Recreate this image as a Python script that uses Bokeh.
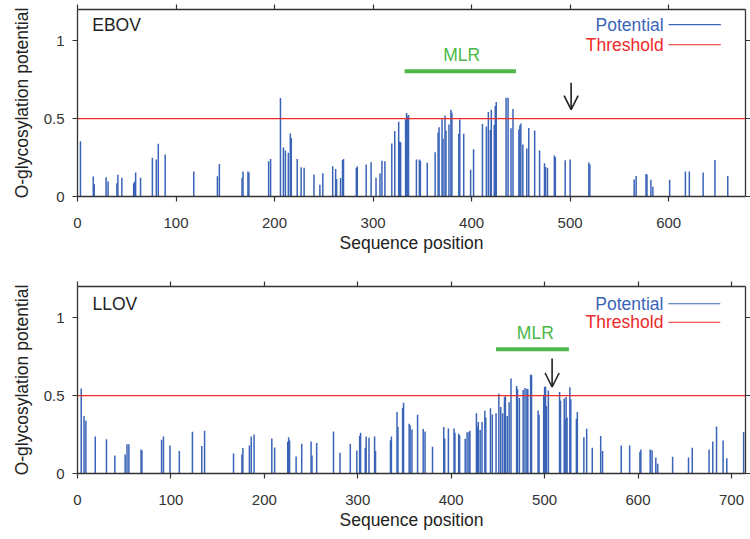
from bokeh.plotting import figure
from bokeh.models import Range1d, LinearAxis, FixedTicker, Span, Arrow, OpenHead, Label
from bokeh.layouts import column
from bokeh.embed import file_html
from bokeh.resources import INLINE

# ---------------- data ----------------
ebov_pos = [3, 16, 17, 29, 31, 40, 41, 45, 57, 58, 59, 64, 76, 80, 82, 89, 118, 142, 144,
            167, 168, 173, 174, 194, 196, 206, 209, 211, 214, 216, 217, 223,
            227, 230, 240, 246, 249, 259, 262, 263, 267, 269, 270, 283, 284, 293, 298,
            303, 307, 309, 312, 319, 322, 326, 327, 328, 333, 334, 335, 336, 344, 347,
            348, 355, 363, 366, 367, 370, 371, 373, 374, 377, 379, 380, 387, 388, 392,
            399, 402, 411, 415, 417, 419, 420, 423, 424, 425, 435, 437, 440, 442, 448,
            449, 450, 452, 456, 458, 464, 469, 474, 475, 477, 484, 485, 495, 500, 519,
            520, 565, 567, 577, 578, 582, 584, 601, 617, 621, 635, 647, 660]
ebov_pot = [0.355, 0.128, 0.079, 0.124, 0.096, 0.085, 0.139, 0.120, 0.085, 0.096, 0.154, 0.12,
            0.248, 0.237, 0.338, 0.269, 0.160, 0.130, 0.209,
            0.12, 0.16, 0.16, 0.154, 0.226, 0.241, 0.632, 0.314, 0.295, 0.280, 0.404, 0.376, 0.241,
            0.188, 0.184, 0.141, 0.075, 0.150, 0.194, 0.177, 0.113, 0.118, 0.235, 0.241, 0.184,
            0.192, 0.205, 0.22,
            0.12, 0.147, 0.229, 0.226, 0.34, 0.421, 0.479, 0.353, 0.348, 0.494, 0.536, 0.515,
            0.523, 0.237, 0.237,
            0.23, 0.216, 0.284, 0.41, 0.444, 0.496, 0.372, 0.519, 0.423, 0.462, 0.556, 0.538,
            0.402, 0.494, 0.402,
            0.171, 0.303, 0.466, 0.449, 0.543, 0.427, 0.556, 0.459, 0.581, 0.607, 0.633, 0.633,
            0.438, 0.562, 0.43,
            0.455, 0.468, 0.333, 0.308, 0.440, 0.423, 0.295, 0.214, 0.19, 0.184, 0.263, 0.252,
            0.233, 0.237, 0.218,
            0.205, 0.109, 0.132, 0.145, 0.141, 0.107, 0.062, 0.107, 0.160, 0.160, 0.154, 0.235, 0.132]

llov_pos = [4, 7, 9, 19, 31, 40, 51, 53, 55, 68, 69, 90, 92, 99, 109, 123, 133, 136, 167, 176,
            177, 184, 186, 189, 208, 211, 225, 226, 227, 234, 240, 250, 251, 256, 274, 281,
            292, 299, 302, 303, 308, 309, 312, 318, 319, 335, 336, 342, 343, 348, 349, 355,
            356, 358, 364, 370, 372, 380, 392, 393, 397, 403, 404, 408, 409, 415, 417, 419,
            420, 427, 428, 429, 431, 433, 436, 437, 442, 444, 448, 451, 453, 455, 457, 458,
            460, 462, 464, 470, 471, 473, 477, 479, 481, 482, 485, 486, 493, 494, 499, 500,
            501, 502, 504, 516, 517, 521, 522, 523, 524, 527, 528, 534, 535, 542, 545, 551,
            560, 562, 582, 591, 602, 603, 613, 615, 619, 621, 637, 654, 658, 676, 680, 684,
            691, 695, 713]
llov_pot = [0.545, 0.369, 0.339, 0.238, 0.219, 0.116, 0.122, 0.187, 0.187, 0.154, 0.148, 0.217,
            0.238, 0.18, 0.144, 0.268, 0.176, 0.274, 0.129, 0.122,
            0.163, 0.18, 0.238, 0.251, 0.225, 0.167, 0.204, 0.232, 0.212, 0.109, 0.191, 0.206,
            0.116, 0.195, 0.27, 0.133,
            0.191, 0.148, 0.242, 0.262, 0.165, 0.238, 0.229, 0.238, 0.144, 0.214, 0.238, 0.394,
            0.30, 0.42, 0.454, 0.319,
            0.309, 0.283, 0.377, 0.285, 0.27, 0.171, 0.298, 0.225, 0.289, 0.289, 0.262, 0.255,
            0.245, 0.223, 0.264, 0.264,
            0.274, 0.386, 0.30, 0.33, 0.279, 0.33, 0.403, 0.36, 0.418, 0.379, 0.386, 0.512,
            0.427, 0.386, 0.489, 0.495,
            0.369, 0.457, 0.609, 0.561, 0.54, 0.485, 0.536, 0.549, 0.544, 0.54, 0.635, 0.63,
            0.405, 0.377, 0.506, 0.557,
            0.557, 0.433, 0.532, 0.523, 0.469, 0.482, 0.352, 0.491, 0.36, 0.553, 0.476, 0.352,
            0.394, 0.232, 0.287, 0.165,
            0.24, 0.144, 0.18, 0.18, 0.139, 0.154, 0.154, 0.15, 0.103, 0.062, 0.107, 0.103,
            0.165, 0.154, 0.206, 0.302,
            0.212, 0.098, 0.266]

threshold = 0.5
ebov_mlr = [332, 445]
llov_mlr = [448, 526]
ebov_arrow_x = 501
llov_arrow_x = 508
ebov_xticks = [0, 100, 200, 300, 400, 500, 600]
llov_xticks = [0, 100, 200, 300, 400, 500, 600, 700]
yticks = [0, 0.5, 1]

FONT = "Liberation Sans"
BIG = "17.5px"
AXC = "#333333"
BLUE = "#3a64b8"
RED = "#ee2a2a"
GREEN = "#4cb848"


def style_axis(ax, ticks, labels=True):
    ax.ticker = FixedTicker(ticks=ticks)
    ax.axis_line_color = AXC
    ax.axis_line_width = 1.3
    ax.major_tick_line_color = AXC
    ax.major_tick_line_width = 1.2
    ax.major_tick_in = 0
    ax.major_tick_out = 5
    ax.minor_tick_line_color = None
    ax.major_label_text_font = FONT
    if labels:
        ax.major_label_text_font_size = "15px"
        ax.major_label_text_color = "#333333"
    else:
        ax.major_label_text_font_size = "0px"
        ax.major_label_text_color = None
        ax.major_label_standoff = 0


def panel(name, pos, pot, xmax, bb, xticks, mlr, arrow_x,
          leg_x0, leg_x1, leg_y, mlr_y, mlr_text_x, arrow_y, name_x):
    p = figure(frame_width=668, frame_height=187,
               x_range=Range1d(0, xmax), y_range=Range1d(0, 1.2),
               output_backend="svg", toolbar_location=None,
               min_border_left=77, min_border_right=0, min_border_top=9,
               min_border_bottom=bb,
               x_axis_label="Sequence position",
               y_axis_label="O-glycosylation potential")
    p.outline_line_color = None
    p.grid.visible = False
    style_axis(p.xaxis[0], xticks)
    style_axis(p.yaxis[0], yticks)
    p.xaxis.major_label_standoff = 16
    p.yaxis.major_label_standoff = 8
    p.yaxis.major_label_overrides = {0: "0", 0.5: "0.5", 1: "1"}
    for ax in (p.xaxis[0], p.yaxis[0]):
        ax.axis_label_text_font = FONT
        ax.axis_label_text_font_size = BIG
        ax.axis_label_text_font_style = "normal"
        ax.axis_label_text_color = "#222222"
    p.xaxis.axis_label_standoff = 2
    p.yaxis.axis_label_standoff = 9

    top = LinearAxis()
    style_axis(top, xticks, labels=False)
    p.add_layout(top, "above")
    right = LinearAxis()
    style_axis(right, yticks, labels=False)
    p.add_layout(right, "right")

    # bars
    p.segment(x0=pos, y0=[0] * len(pos), x1=pos, y1=pot,
              line_color=BLUE, line_width=1.5)
    # threshold
    p.add_layout(Span(location=threshold, dimension="width",
                      line_color=RED, line_width=1.3))

    # panel name
    p.add_layout(Label(x=name_x, y=leg_y[0], text=name, text_font=FONT,
                       text_font_size=BIG, text_color="#222222",
                       text_baseline="middle", text_align="left"))
    # legend
    for txt, col, yy in (("Potential", BLUE, leg_y[0]), ("Threshold", RED, leg_y[1])):
        p.add_layout(Label(x=leg_x0 - 5 * xmax / 668, y=yy, text=txt, text_font=FONT,
                           text_font_size=BIG, text_color=col,
                           text_baseline="middle", text_align="right"))
        p.segment(x0=[leg_x0], y0=[yy], x1=[leg_x1], y1=[yy],
                  line_color=col, line_width=1.1)

    # MLR
    p.segment(x0=[mlr[0]], y0=[mlr_y[0]], x1=[mlr[1]], y1=[mlr_y[0]],
              line_color=GREEN, line_width=4)
    p.add_layout(Label(x=mlr_text_x, y=mlr_y[1], text="MLR", text_font=FONT,
                       text_font_size=BIG, text_color=GREEN,
                       text_baseline="middle", text_align="center"))
    # arrow
    p.add_layout(Arrow(end=OpenHead(size=14, line_width=1.6, line_color="#222222"),
                       x_start=arrow_x, y_start=arrow_y[0], x_end=arrow_x, y_end=arrow_y[1],
                       line_width=1.6, line_color="#222222"))
    return p


p1 = panel("EBOV", ebov_pos, ebov_pot, 678, 81, ebov_xticks, ebov_mlr,
           ebov_arrow_x, 600, 653, (1.103, 0.974), (0.803, 0.905), 390, (0.73, 0.557), 15)
p2 = panel("LLOV", llov_pos, llov_pot, 715, 62, llov_xticks, llov_mlr,
           llov_arrow_x, 632.5, 688, (1.089, 0.971), (0.798, 0.90), 490, (0.738, 0.555), 16)

layout = column(p1, p2, spacing=0)
open("out.html", "w").write(file_html(layout, INLINE))
